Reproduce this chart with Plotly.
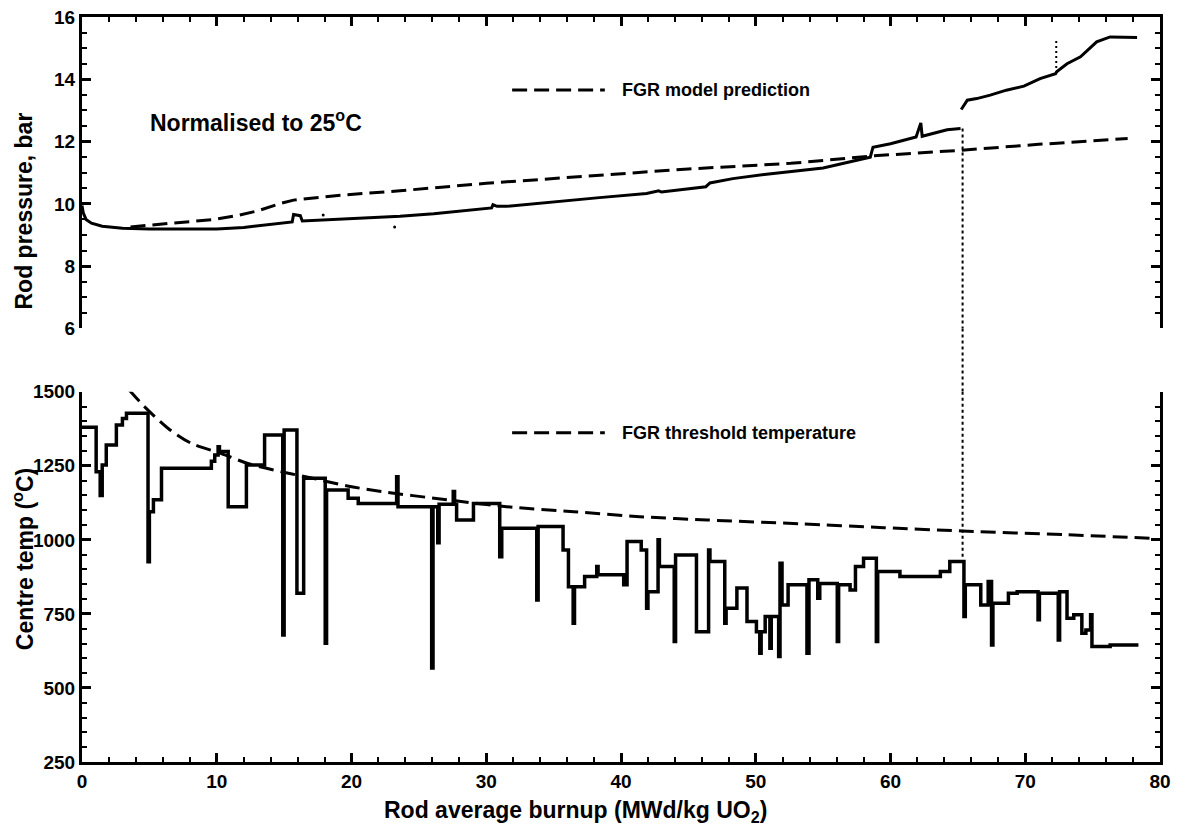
import plotly.graph_objects as go

# ---------------- data ----------------
# Rod internal pressure (bar, normalised to 25 C) vs rod average burnup
pressure_seg1 = [
    (0.0, 9.95), (0.1, 9.7), (0.3, 9.5), (0.7, 9.38), (1.5, 9.28), (3.0, 9.22),
    (5.0, 9.19), (8.0, 9.18), (10.0, 9.19), (12.0, 9.24), (13.7, 9.32),
    (15.6, 9.42), (15.7, 9.66), (16.2, 9.62), (16.35, 9.45), (18.0, 9.48),
    (20.0, 9.52), (23.6, 9.60), (26.1, 9.68), (28.6, 9.80), (30.4, 9.87),
    (30.5, 9.97), (30.8, 9.92), (31.5, 9.92), (34.7, 10.06), (38.4, 10.20),
    (41.9, 10.33), (42.8, 10.42), (43.0, 10.38), (45.4, 10.49), (46.3, 10.55),
    (46.6, 10.67), (48.3, 10.81), (50.8, 10.95), (53.3, 11.08), (55.0, 11.15),
    (57.5, 11.40), (58.5, 11.50), (58.7, 11.82), (60.0, 11.93), (61.9, 12.15),
    (62.25, 12.60), (62.35, 12.17), (64.2, 12.38), (65.2, 12.42),
]
pressure_seg2 = [
    (65.25, 13.03), (65.7, 13.33), (66.4, 13.38), (67.4, 13.49), (68.6, 13.65),
    (69.9, 13.78), (71.1, 14.02), (72.25, 14.18), (72.35, 14.25), (73.1, 14.50),
    (74.1, 14.72), (75.3, 15.20), (76.3, 15.36), (78.3, 15.34),
]
pressure_spike = [(72.3, 14.2), (72.3, 15.25)]
pressure_dots = [(17.9, 9.64), (23.2, 9.26)]

# FGR model prediction of rod pressure
fgr_prediction = [
    (3.6, 9.26), (6.3, 9.37), (9.8, 9.50), (11.5, 9.62), (13.0, 9.77),
    (14.7, 10.01), (15.7, 10.12), (19.0, 10.27), (23.6, 10.42), (30.0, 10.66),
    (38.4, 10.92), (45.0, 11.12), (52.6, 11.30), (58.7, 11.54), (65.2, 11.72),
    (71.0, 11.91), (77.6, 12.10),
]

# Fuel centre temperature (C), piecewise constant: value holds until next burnup
centre_temp = [
    (0.0, 1380), (1.05, 1230), (1.35, 1150), (1.5, 1253), (1.8, 1320),
    (2.55, 1388), (3.0, 1410), (3.3, 1427), (4.9, 926), (5.0, 1095),
    (5.3, 1135), (5.9, 1242), (9.6, 1265), (9.85, 1286), (10.1, 1314),
    (10.2, 1298), (10.85, 1112), (12.2, 1253), (13.55, 1354), (14.9, 679),
    (15.0, 1371), (15.95, 820), (16.45, 1208), (18.05, 651), (18.15, 1168),
    (19.75, 1140), (20.5, 1123), (23.35, 1213), (23.45, 1112), (25.95, 567),
    (26.05, 1112), (26.4, 990), (26.5, 1120), (27.55, 1163), (27.65, 1120),
    (27.8, 1067), (29.05, 1123), (31.0, 943), (31.15, 1039), (33.75, 797),
    (33.85, 1045), (35.7, 966), (36.1, 842), (36.45, 718), (36.55, 842),
    (37.3, 876), (38.2, 910), (38.3, 882), (40.2, 848), (40.45, 994),
    (41.5, 966), (41.9, 769), (42.0, 825), (42.75, 1000), (42.85, 910),
    (43.95, 657), (44.05, 949), (45.6, 690), (46.5, 966), (46.6, 927),
    (47.7, 718), (47.8, 769), (48.6, 837), (49.35, 724), (50.05, 690),
    (50.3, 617), (50.4, 690), (50.7, 741), (51.05, 634), (51.15, 741),
    (51.7, 606), (51.8, 921), (51.95, 780), (52.4, 848), (53.8, 617),
    (53.95, 865), (54.6, 803), (54.75, 853), (56.05, 657), (56.15, 848),
    (57.0, 831), (57.4, 910), (58.0, 938), (58.95, 657), (59.05, 893),
    (60.7, 876), (63.7, 893), (64.4, 927), (65.45, 741), (65.55, 848),
    (66.7, 780), (67.25, 859), (67.5, 645), (67.6, 786), (68.75, 820),
    (69.4, 825), (70.95, 730), (71.05, 820), (72.45, 662), (72.55, 825),
    (73.1, 735), (73.6, 747), (74.2, 685), (74.5, 696), (74.85, 747),
    (74.95, 640), (76.3, 645), (78.4, 645),
]

# FGR threshold temperature
fgr_threshold = [
    (3.5, 1506), (4.65, 1449), (6.4, 1376), (8.1, 1326), (10.3, 1292),
    (12.3, 1258), (14.8, 1230), (17.3, 1206), (19.7, 1182), (22.2, 1163),
    (26.6, 1138), (31.5, 1112), (36.5, 1095), (41.4, 1078), (46.4, 1067),
    (53.3, 1054), (59.5, 1041), (65.3, 1030), (73.1, 1017), (79.6, 1005),
]

# burnup where the pressure jump is linked to the temperature history
link_burnup = 65.35
link_pressure = 12.42
link_temp = 935

x_ticks = [0, 10, 20, 30, 40, 50, 60, 70, 80]
p_ticks = [6, 8, 10, 12, 14, 16]
t_ticks = [250, 500, 750, 1000, 1250, 1500]


def xs(pts):
    return [p[0] for p in pts]


def ys(pts):
    return [p[1] for p in pts]


def step(ticks):
    return ticks[1] - ticks[0]


# ---------------- styling ----------------
FONT = "Liberation Sans, Arial, Helvetica, sans-serif"
BLACK = "black"
TOP_DOMAIN = [0.582, 1.0]
BOTTOM_DOMAIN = [0.0, 0.497]
DASH = "15px,7px"
DOT = dict(color=BLACK, width=2, dash="3px,3px")

fig = go.Figure()

# pressure curve (two segments either side of the jump)
fig.add_trace(go.Scatter(x=xs(pressure_seg1) + [None] + xs(pressure_seg2),
                         y=ys(pressure_seg1) + [None] + ys(pressure_seg2),
                         mode="lines", line=dict(color=BLACK, width=3),
                         connectgaps=False, xaxis="x", yaxis="y",
                         showlegend=False, hoverinfo="skip"))
fig.add_trace(go.Scatter(x=xs(pressure_spike), y=ys(pressure_spike), mode="lines",
                         line=dict(color=BLACK, width=2, dash="2px,3px"),
                         xaxis="x", yaxis="y", showlegend=False))
fig.add_trace(go.Scatter(x=xs(pressure_dots), y=ys(pressure_dots), mode="markers",
                         marker=dict(color=BLACK, size=3),
                         xaxis="x", yaxis="y", showlegend=False))
fig.add_trace(go.Scatter(x=xs(fgr_prediction), y=ys(fgr_prediction), mode="lines",
                         line=dict(color=BLACK, width=3, dash=DASH),
                         xaxis="x", yaxis="y", showlegend=False))

# centre temperature history
fig.add_trace(go.Scatter(x=xs(centre_temp), y=ys(centre_temp), mode="lines",
                         line=dict(color=BLACK, width=3.5, shape="hv"),
                         xaxis="x2", yaxis="y2", showlegend=False))
fig.add_trace(go.Scatter(x=xs(fgr_threshold), y=ys(fgr_threshold), mode="lines",
                         line=dict(color=BLACK, width=3, dash=DASH, shape="spline",
                                   smoothing=0.8),
                         xaxis="x2", yaxis="y2", showlegend=False))

# dotted link from the pressure jump down to the temperature history
fig.add_trace(go.Scatter(x=[link_burnup, link_burnup], y=[link_pressure, p_ticks[0]],
                         mode="lines", line=DOT, xaxis="x", yaxis="y",
                         showlegend=False, hoverinfo="skip"))
fig.add_trace(go.Scatter(x=[link_burnup, link_burnup], y=[t_ticks[-1], link_temp],
                         mode="lines", line=DOT, xaxis="x2", yaxis="y2",
                         showlegend=False, hoverinfo="skip"))

tickfont = dict(family=FONT, size=19, color=BLACK, weight="bold")


def axis_common(**kw):
    base = dict(showline=True, linecolor=BLACK, linewidth=3, showgrid=False,
                zeroline=False, ticks="inside", ticklen=9, tickwidth=2.5,
                tickcolor=BLACK, tickfont=tickfont, automargin=False,
                layer="above traces")
    base.update(kw)
    return base


def minor(dtick):
    return dict(ticks="inside", dtick=dtick, ticklen=5, tickwidth=2,
                tickcolor=BLACK, showgrid=False)


fig.update_layout(
    template="none",
    width=1190, height=833,
    margin=dict(l=82, r=30, t=17, b=71, autoexpand=False),
    paper_bgcolor="white", plot_bgcolor="white",
    font=dict(family=FONT, color=BLACK),
    showlegend=False,
    xaxis=axis_common(domain=[0, 1], anchor="y", side="top",
                      range=[x_ticks[0], x_ticks[-1]], tick0=x_ticks[0],
                      dtick=step(x_ticks), showticklabels=False,
                      minor=minor(step(x_ticks) / 5)),
    yaxis=axis_common(domain=TOP_DOMAIN, anchor="x",
                      range=[p_ticks[0], p_ticks[-1]], tick0=p_ticks[0],
                      dtick=step(p_ticks), mirror="ticks",
                      minor=minor(step(p_ticks) / 4)),
    xaxis2=axis_common(domain=[0, 1], anchor="y2",
                       range=[x_ticks[0], x_ticks[-1]], tick0=x_ticks[0],
                       dtick=step(x_ticks), minor=minor(step(x_ticks) / 5)),
    yaxis2=axis_common(domain=BOTTOM_DOMAIN, anchor="x2",
                       range=[t_ticks[0], t_ticks[-1]], tick0=t_ticks[0],
                       dtick=step(t_ticks), mirror="ticks",
                       minor=minor(step(t_ticks) / 5)),
)

# dotted link across the gap between the two panels
fig.add_shape(type="line", xref="x", yref="paper", x0=link_burnup, x1=link_burnup,
              y0=TOP_DOMAIN[0], y1=BOTTOM_DOMAIN[1], line=DOT)

# key entries for the dashed curves
key_line = dict(color=BLACK, width=3, dash=DASH)
fig.add_shape(type="line", xref="paper", yref="paper", x0=0.399, x1=0.485,
              y0=0.902, y1=0.902, line=key_line)
fig.add_shape(type="line", xref="paper", yref="paper", x0=0.399, x1=0.485,
              y0=0.442, y1=0.442, line=key_line)

keyfont = dict(family=FONT, size=18, color=BLACK, weight="bold")
titlefont = dict(family=FONT, size=23, color=BLACK, weight="bold")

fig.add_annotation(text="FGR model prediction", xref="paper", yref="paper",
                   x=0.499, y=0.902, xanchor="left", yanchor="middle",
                   showarrow=False, font=keyfont)
fig.add_annotation(text="FGR threshold temperature", xref="paper", yref="paper",
                   x=0.499, y=0.442, xanchor="left", yanchor="middle",
                   showarrow=False, font=keyfont)
fig.add_annotation(text="Normalised to 25<sup>o</sup>C", xref="paper", yref="paper",
                   x=0.061, y=0.861, xanchor="left", yanchor="middle",
                   showarrow=False, font=titlefont)

# axis titles
fig.add_annotation(text="Rod pressure, bar", xref="paper", yref="paper",
                   x=-0.054, y=0.740, textangle=-90, xanchor="center",
                   yanchor="middle", showarrow=False, font=titlefont)
fig.add_annotation(text="Centre temp (<sup>o</sup>C)", xref="paper", yref="paper",
                   x=-0.054, y=0.272, textangle=-90, xanchor="center",
                   yanchor="middle", showarrow=False, font=titlefont)
fig.add_annotation(text="Rod average burnup (MWd/kg UO<sub>2</sub>)",
                   xref="paper", yref="paper", x=0.458, y=-0.066,
                   xanchor="center", yanchor="middle", showarrow=False,
                   font=titlefont)

fig.write_html("out.html")
